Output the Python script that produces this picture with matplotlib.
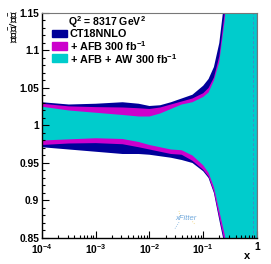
import numpy as np
import matplotlib
matplotlib.use('Agg')
import matplotlib.pyplot as plt
from matplotlib.ticker import FixedLocator, NullFormatter

plt.rcParams['font.family'] = 'Liberation Sans'
plt.rcParams['font.weight'] = 'bold'
plt.rcParams['mathtext.fontset'] = 'custom'
plt.rcParams['mathtext.rm'] = 'Liberation Sans:bold'
plt.rcParams['mathtext.it'] = 'Liberation Sans:italic:bold'
plt.rcParams['mathtext.bf'] = 'Liberation Sans:bold'

# log10(x) nodes
log_x = [-4.0, -3.5, -3.0, -2.5, -2.2, -2.0, -1.8, -1.6, -1.4, -1.2,
         -1.0, -0.9, -0.8, -0.7, -0.6, -0.5, -0.3, 0.0]

# upper edges
ct18_hi = [1.031, 1.028, 1.029, 1.031, 1.029, 1.026, 1.027, 1.031, 1.036, 1.041,
           1.053, 1.062, 1.078, 1.110, 1.170, 1.26, 1.60, 2.50]
afb_hi = [1.029, 1.0255, 1.0245, 1.024, 1.023, 1.022, 1.024, 1.028, 1.032, 1.036,
          1.043, 1.050, 1.064, 1.092, 1.150, 1.24, 1.55, 2.40]
aw_hi = [1.025, 1.020, 1.017, 1.014, 1.012, 1.012, 1.016, 1.022, 1.028, 1.031,
         1.038, 1.044, 1.060, 1.085, 1.140, 1.23, 1.50, 2.30]

# lower edges
aw_lo = [0.980, 0.9815, 0.983, 0.982, 0.978, 0.974, 0.971, 0.968, 0.967, 0.960,
         0.947, 0.937, 0.918, 0.886, 0.855, 0.80, 0.60, 0.0]
afb_lo = [0.974, 0.976, 0.9765, 0.975, 0.971, 0.968, 0.965, 0.962, 0.961, 0.953,
          0.941, 0.932, 0.912, 0.878, 0.845, 0.78, 0.55, -0.1]
ct18_lo = [0.971, 0.968, 0.965, 0.962, 0.962, 0.961, 0.959, 0.957, 0.954, 0.950,
           0.939, 0.930, 0.910, 0.874, 0.840, 0.77, 0.50, -0.2]

labels = ['CT18NNLO', '+ AFB 300 fb$^{-1}$', '+ AFB + AW 300 fb$^{-1}$']
colors = ['#000099', '#cc00cc', '#00cccc']

x = 10 ** np.array(log_x)

fig = plt.figure(figsize=(2.71, 2.64), dpi=100)
ax = fig.add_axes([0.155, 0.0985, 0.793, 0.8523])

ax.fill_between(x, ct18_lo, ct18_hi, color=colors[0], lw=0)
ax.fill_between(x, afb_lo, afb_hi, color=colors[1], lw=0)
ax.fill_between(x, aw_lo, aw_hi, color=colors[2], lw=0)
ax.axvline(0.84, color='#3d8fc4', lw=0.7, ls=(0, (3, 2)))

ax.set_xscale('log')
ax.set_xlim(1e-4, 1)
ax.set_ylim(0.85, 1.15)

ax.xaxis.set_major_locator(FixedLocator([1e-4, 1e-3, 1e-2, 1e-1, 1]))
ax.set_xticklabels(['10$^{-4}$', '10$^{-3}$', '10$^{-2}$', '10$^{-1}$', '1'])
minors = [m * 10.0 ** e for e in range(-4, 0) for m in range(2, 10)]
ax.xaxis.set_minor_locator(FixedLocator(minors))
ax.xaxis.set_minor_formatter(NullFormatter())

ax.set_yticks([0.85, 0.9, 0.95, 1.0, 1.05, 1.1, 1.15])
ax.set_yticklabels(['0.85', '0.9', '0.95', '1', '1.05', '1.1', '1.15'])
ax.yaxis.set_minor_locator(FixedLocator(np.arange(0.85, 1.151, 0.01)))

ax.tick_params(which='both', direction='in', labelsize=7.4, width=0.8,
               top=False, right=False, pad=2)
ax.tick_params(which='major', length=5)
ax.tick_params(which='minor', length=2.5)
ax.tick_params(axis='x', pad=3)

for s in ['left', 'bottom']:
    ax.spines[s].set_linewidth(1.0)
    ax.spines[s].set_color('black')
for s in ['top', 'right']:
    ax.spines[s].set_linewidth(0.8)
    ax.spines[s].set_color('#777777')

fig.text(0.05, 0.965, r'$\delta \mathrm{x}\bar{\mathrm{d}}/\mathrm{x}\bar{\mathrm{d}}$',
         rotation=90, ha='center', va='top', fontsize=8, weight='normal',
         math_fontfamily='stixsans')
fig.text(0.91, 0.012, 'x', fontsize=8, ha='center', va='bottom')

# legend
fig.text(0.25, 0.917, 'Q$^2$ = 8317 GeV$^2$', fontsize=7.6, va='center')
box_y = [0.872, 0.826, 0.778]
for c, lab, yy in zip(colors, labels, box_y):
    fig.patches.append(plt.Rectangle((0.192, yy - 0.014), 0.055, 0.03,
                                     transform=fig.transFigure, color=c))
    fig.text(0.258, yy, lab, fontsize=7.8, va='center')

# xFitter logo
ax.text(10 ** -1.32, 0.876, 'xFitter', fontsize=5.5, style='italic', weight='normal',
        color='#6fa8dc', ha='center', va='center')
ax.plot([10 ** -1.45, 10 ** -1.42], [0.886, 0.878], color='#f0d070', lw=0.6, ls=':')
ax.plot([10 ** -1.45, 10 ** -1.53], [0.871, 0.862], color='#7fb3e0', lw=0.6, ls=':')
ax.plot([10 ** -1.2, 10 ** -1.15], [0.872, 0.868], color='#f0d070', lw=0.6, ls=':')

fig.savefig('out.png', dpi=100)
